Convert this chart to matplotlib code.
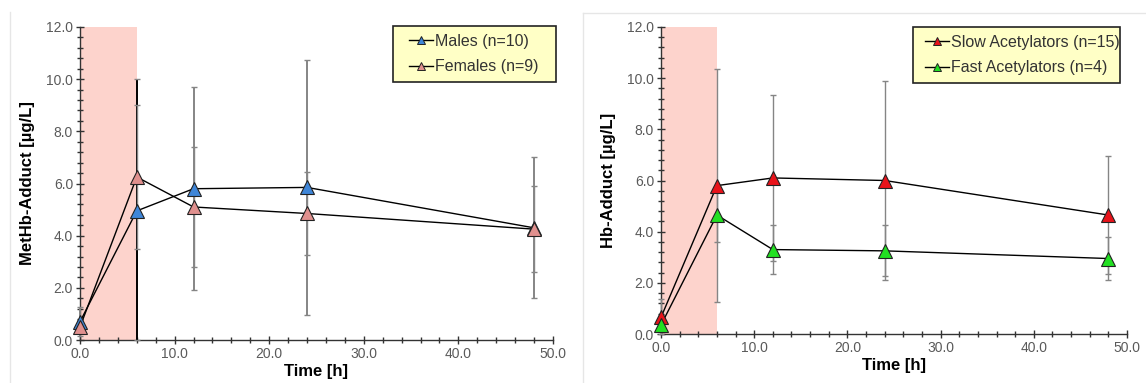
import matplotlib
matplotlib.use("Agg")
import matplotlib.pyplot as plt
from matplotlib.lines import Line2D
from matplotlib.patches import Rectangle
import numpy as np

plt.rcParams['font.family'] = ['Liberation Sans', 'DejaVu Sans']

# ---- data ----
time_h = [0, 6, 12, 24, 48]

males = [0.70, 4.95, 5.80, 5.85, 4.30]
males_sd = [0.55, 5.05, 3.90, 4.90, 2.70]
females = [0.50, 6.25, 5.10, 4.85, 4.25]
females_sd = [0.25, 2.75, 2.30, 1.60, 1.65]

slow = [0.65, 5.80, 6.10, 6.00, 4.65]
slow_sd = [0.70, 4.55, 3.25, 3.90, 2.30]
fast = [0.35, 4.65, 3.30, 3.25, 2.95]
fast_sd = [0.20, 1.05, 0.95, 1.00, 0.85]

left_labels = ["Males (n=10)", "Females (n=9)"]
right_labels = ["Slow Acetylators (n=15)", "Fast Acetylators (n=4)"]
exposure_end = 6.0

W, H = 1146, 383
fig = plt.figure(figsize=(W / 100, H / 100), dpi=100)

axL = fig.add_axes([80 / W, 43 / H, 473 / W, 313 / H])
axR = fig.add_axes([661 / W, 49 / H, 466 / W, 307 / H])

# faint chart-area borders
fig.add_artist(Line2D([10 / W, 10 / W], [0, 1 - 12 / H], color="#e6e6e6", lw=1))
fig.add_artist(Line2D([583 / W, 583 / W], [0, 1 - 13 / H], color="#e6e6e6", lw=1))
fig.add_artist(Line2D([583 / W, 1], [1 - 13 / H, 1 - 13 / H], color="#e6e6e6", lw=1))

EC = "#858585"

def draw_series(ax, y, sd, color, black_idx=None):
    y = np.array(y)
    sd = np.array(sd)
    low = np.minimum(sd, y)
    line, caps, bars = ax.errorbar(time_h, y, yerr=[low, sd], fmt='none',
                                   ecolor=EC, elinewidth=1.0,
                                   capsize=2.5, capthick=1.0, zorder=3)
    for c in caps:
        c.set_clip_on(False)
    bars[0].set_clip_on(False)
    if black_idx is not None:
        cols = [EC] * len(y)
        cols[black_idx] = "#000000"
        bars[0].set_colors(cols)
        bars[0].set_linewidth(1.4)
    ax.plot(time_h, y, color="black", lw=1.0, zorder=4, clip_on=False)
    ax.plot(time_h, y, ls='none', marker='^', markersize=10,
            markerfacecolor=color, markeredgecolor="#222222",
            markeredgewidth=0.8, zorder=5, clip_on=False)

def style_axes(ax, ylabel):
    ax.set_xlim(0, 50)
    ax.set_ylim(0, 12)
    ax.axvspan(0, exposure_end, color="#fdd3cc", zorder=0, lw=0)
    for s in ("top", "right"):
        ax.spines[s].set_visible(False)
    for s in ("left", "bottom"):
        ax.spines[s].set_color("#333333")
        ax.spines[s].set_linewidth(1.0)
        ax.spines[s].set_zorder(2)
    ax.set_xticks(np.arange(0, 51, 10))
    ax.set_xticks(np.arange(0, 51, 2), minor=True)
    ax.set_yticks(np.arange(0, 12.1, 2))
    ax.set_yticks(np.arange(0, 12.01, 0.4), minor=True)
    ax.set_xticklabels([f"{v:.1f}" for v in np.arange(0, 51, 10)])
    ax.set_yticklabels([f"{v:.1f}" for v in np.arange(0, 12.1, 2)])
    ax.tick_params(which='major', direction='inout', length=6, width=1,
                   color="#333333", labelsize=10, labelcolor="#5a5a5a", pad=2)
    ax.tick_params(which='minor', direction='inout', length=4, width=1,
                   color="#333333")
    ax.set_xlabel("Time [h]", fontsize=12, fontweight='bold', labelpad=2)
    ax.set_ylabel(ylabel, fontsize=12, fontweight='bold', labelpad=8)
    ax.patch.set_alpha(0)

style_axes(axL, "MetHb-Adduct [µg/L]")
style_axes(axR, "Hb-Adduct [µg/L]")

draw_series(axL, males, males_sd, "#3f86d8", black_idx=1)
draw_series(axL, females, females_sd, "#e0908e")
draw_series(axR, slow, slow_sd, "#e8131a")
draw_series(axR, fast, fast_sd, "#22e022")

def make_legend(colors, labels, box, handle_x):
    x0, x1, y0, y1 = box  # pixel coords from top-left
    rect = Rectangle((x0 / W, 1 - y1 / H), (x1 - x0) / W, (y1 - y0) / H,
                     transform=fig.transFigure, facecolor="#ffffc6",
                     edgecolor="#222222", lw=1.2, zorder=10)
    fig.add_artist(rect)
    handles = [Line2D([0], [0], color="black", lw=1.0, marker='^', markersize=6,
                      markerfacecolor=c, markeredgecolor="#222222",
                      markeredgewidth=0.7) for c in colors]
    leg = fig.legend(handles, labels, loc='center left',
                     bbox_to_anchor=(handle_x / W, 1 - (y0 + y1) / 2 / H),
                     bbox_transform=fig.transFigure, fontsize=11.5,
                     frameon=False, handlelength=1.5, handletextpad=0.1,
                     labelspacing=0.65, borderpad=0, borderaxespad=0)
    leg.set_zorder(11)
    for t in leg.get_texts():
        t.set_color("#333333")
    return leg

make_legend(["#3f86d8", "#e0908e"], left_labels, (393, 556, 26, 82), 409)
make_legend(["#e8131a", "#22e022"], right_labels, (913, 1120, 27, 83), 925)

fig.savefig("out.png", dpi=100)
